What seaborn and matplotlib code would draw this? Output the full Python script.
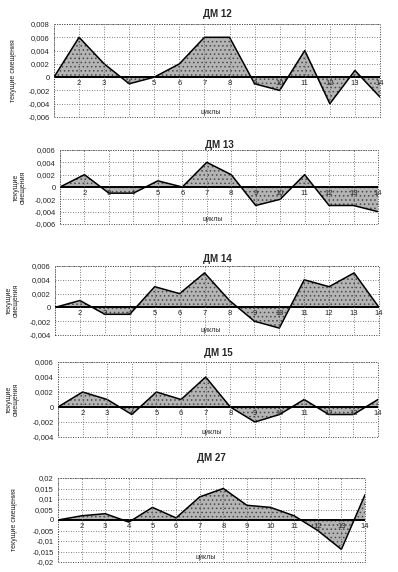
import matplotlib
matplotlib.use("Agg")
import matplotlib.pyplot as plt
import seaborn as sns
import numpy as np
import pandas as pd
from matplotlib.ticker import FuncFormatter, MultipleLocator
from matplotlib.patches import Rectangle

# ---- data ----
cycles = list(range(1, 15))
dm12 = [0, 0.006, 0.002, -0.001, 0, 0.002, 0.006, 0.006, -0.001, -0.002, 0.004, -0.004, 0.001, -0.003]
dm13 = [0, 0.002, -0.001, -0.001, 0.001, 0, 0.004, 0.002, -0.003, -0.002, 0.002, -0.003, -0.003, -0.004]
dm14 = [0, 0.001, -0.001, -0.001, 0.003, 0.002, 0.005, 0.001, -0.002, -0.003, 0.004, 0.003, 0.005, 0]
dm15 = [0, 0.002, 0.001, -0.001, 0.002, 0.001, 0.004, 0, -0.002, -0.001, 0.001, -0.001, -0.001, 0.001]
dm27 = [0, 0.002, 0.003, -0.001, 0.006, 0.001, 0.011, 0.015, 0.007, 0.006, 0.002, -0.005, -0.014, 0.012]

titles = ["ДМ 12", "ДМ 13", "ДМ 14", "ДМ 15", "ДМ 27"]
series = [dm12, dm13, dm14, dm15, dm27]
ylims = [(-0.006, 0.008), (-0.006, 0.006), (-0.004, 0.006), (-0.004, 0.006), (-0.02, 0.02)]
ysteps = [0.002, 0.002, 0.002, 0.002, 0.005]
ylabels = ["текущие смещения", "текущие\nсмещения", "текущие\nсмещения", "текущие\nсмещения", "текущие смещения"]
xlabel = "циклы"

# ---- layout (pixels) ----
W, H = 398, 572
boxes = [(54, 24, 380, 117), (60, 150, 378, 224), (55, 266, 379, 335),
         (58, 362, 378, 437), (58, 478, 365, 562)]
ylab_x = [-0.115, -0.105, -0.11, -0.12, -0.13]
title_pads = [5, 1.5, 3, 4, 12]

sns.set_style("white")
plt.rcParams['font.family'] = ['Liberation Sans', 'DejaVu Sans']
plt.rcParams['hatch.linewidth'] = 0.6
plt.rcParams['hatch.color'] = '#4a4a4a'

fig = plt.figure(figsize=(W / 100, H / 100), dpi=100)

def fmt(v, pos):
    v = round(v, 4)
    if abs(v) < 1e-9:
        return "0"
    return f"{v:g}".replace(".", ",")

for i, (title, vals) in enumerate(zip(titles, series)):
    x0, y0, x1, y1 = boxes[i]
    ax = fig.add_axes([x0 / W, 1 - y1 / H, (x1 - x0) / W, (y1 - y0) / H])
    df = pd.DataFrame({"cycle": cycles, "value": vals})
    ax.fill_between(df["cycle"], df["value"], 0, facecolor="#b4b4b4", edgecolor="#4a4a4a",
                    hatch="....", lw=0, zorder=2)
    sns.lineplot(data=df, x="cycle", y="value", ax=ax, color="black", lw=1.1, zorder=3)
    ax.axhline(0, color="black", lw=1.4, zorder=4)

    ax.set_xlim(1, 14)
    ax.set_ylim(*ylims[i])
    ax.yaxis.set_major_locator(MultipleLocator(ysteps[i]))
    ax.yaxis.set_major_formatter(FuncFormatter(fmt))
    ax.set_xticks(cycles)
    ax.grid(True, which="major", color="#555555", ls=(0, (1, 2)), lw=0.6)
    ax.set_axisbelow(True)
    ax.xaxis.set_zorder(5)

    # x tick labels sit just under the zero line
    ax.spines['bottom'].set_position(('data', 0))
    ax.spines['bottom'].set_visible(False)
    ax.tick_params(axis='x', length=0, pad=2, labelsize=5.5)
    ax.set_xticklabels([""] + [str(c) for c in cycles[1:]])
    ax.tick_params(axis='y', length=0, pad=3, labelsize=5.5)
    for s in ['top', 'left', 'right']:
        ax.spines[s].set_visible(False)
    ax.add_patch(Rectangle((0, 0), 1, 1, transform=ax.transAxes, fill=False,
                           ec="#444444", lw=0.7, ls=(0, (1, 1.5)), zorder=1, clip_on=False))

    ax.set_title(title, fontsize=7, fontweight="bold", pad=title_pads[i])
    ax.set_xlabel("")
    ax.set_ylabel(ylabels[i], fontsize=5, linespacing=0.9)
    ax.yaxis.set_label_coords(ylab_x[i], 0.5)
    ax.text(0.48, 0.01, xlabel, transform=ax.transAxes, fontsize=5, ha="center", va="bottom")

fig.savefig("out.png", dpi=100)
